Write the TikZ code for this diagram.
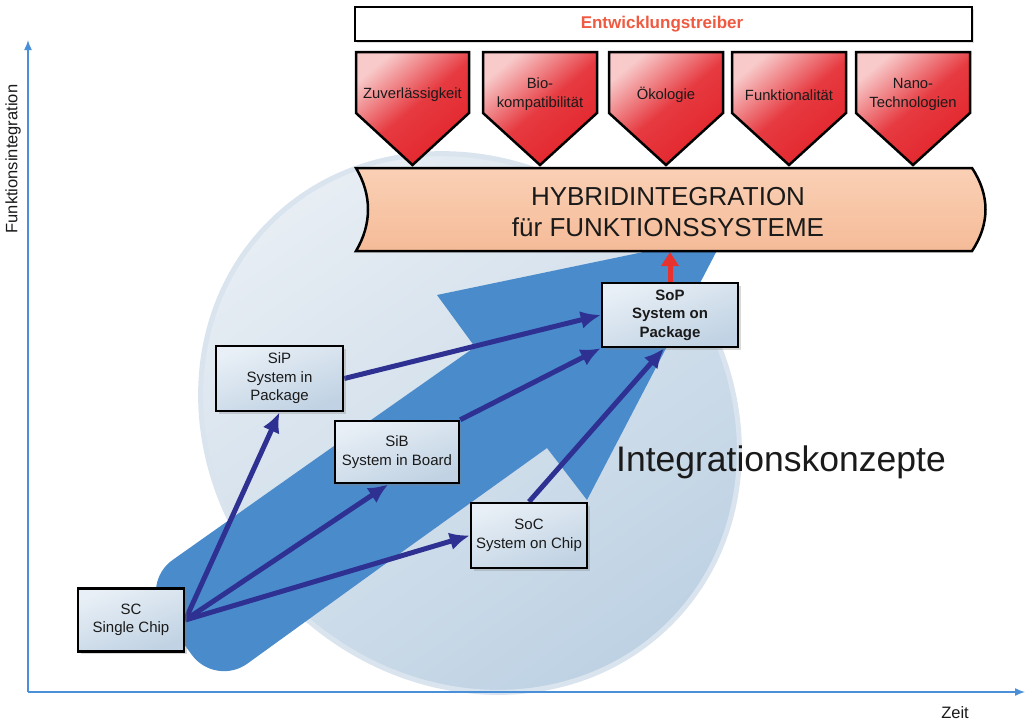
\documentclass[tikz,border=0pt]{standalone}
\usepackage{fontspec}
\setmainfont{Liberation Sans}
\usetikzlibrary{arrows.meta,shadows,calc}
\definecolor{axisblue}{HTML}{4A90D9}
\definecolor{bigblue}{HTML}{4A8BCB}
\definecolor{ellA}{HTML}{E8EEF4}
\definecolor{ellB}{HTML}{BDD1E3}
\definecolor{ellrim}{HTML}{D9E4EE}
\definecolor{darkarrow}{HTML}{2E3192}
\definecolor{boxtop}{HTML}{E8EFF6}
\definecolor{boxbot}{HTML}{C0D2E3}
\definecolor{bandtop}{HTML}{FAD0B5}
\definecolor{bandbot}{HTML}{F5BB98}
\definecolor{redA}{HTML}{F8CACA}
\definecolor{redB}{HTML}{E3242B}
\definecolor{treiber}{HTML}{EF5A40}
\definecolor{redarrow}{HTML}{E8322E}
\definecolor{txt}{HTML}{1A1A1A}
\pgfdeclarelayer{bg}
\pgfdeclarelayer{mid}
\pgfsetlayers{bg,mid,main}
\begin{document}
\begin{tikzpicture}[x=1pt,y=-1pt,
  concept/.style={draw=black, line width=2.5pt, top color=boxtop, bottom color=boxbot, shading angle=20,
    align=center, text=txt, font=\fontsize{15}{18.5}\selectfont, inner sep=0pt,
    drop shadow={shadow xshift=2.5pt,shadow yshift=-2.5pt,opacity=0.3}},
  conn/.style={draw=darkarrow, line width=5pt, -{Latex[length=20pt,width=18pt]}},
  driver/.style={draw=black, line width=2.5pt, top color=redA, bottom color=redB, middle color=redB!90!white,
    shading angle=40, line join=miter},
  drivertext/.style={align=center, font=\fontsize{14.8}{19}\selectfont, text=txt},
  axis/.style={draw=axisblue, line width=1.5pt, -{Latex[length=10pt,width=8pt]}},
]
\useasboundingbox (0,0) rectangle (1029,724);
\begin{pgfonlayer}{bg}
\fill[white] (0,0) rectangle (1029,724);
% background ellipse
\path[rotate around={-45:(470,423)}, draw=ellrim, line width=5pt, top color=ellA, bottom color=ellB, shading angle=35]
  (470,423) ellipse [x radius=283, y radius=255];
% big blue arrow
\fill[bigblue] (381,567) [rounded corners=40pt] -- (215,687) -- (140,583) -- (307,465)
  [sharp corners] -- (475,347) -- (437,295) -- (725,235) -- (587,500) -- (547,448) -- cycle;
\end{pgfonlayer}

% axes
\coordinate (O) at (28,692);
\coordinate (ytop) at (28,40);
\coordinate (xend) at (1025,692);
\draw[axis] (O) -- (ytop);
\draw[axis] (O) -- (xend);
\node[rotate=90, font=\fontsize{16.5}{16.5}\selectfont, text=txt] (ylabel) at (13,159) {Funktionsintegration};
\node[font=\fontsize{16.5}{16.5}\selectfont, text=txt] (xlabel) at (955,713) {Zeit};

% band
\draw[line width=2.5pt, top color=bandtop, bottom color=bandbot]
  (356,168) -- (972,168) .. controls (990,195) and (990,224) .. (972,251)
  -- (356,251) .. controls (372,224) and (372,195) .. (356,168) -- cycle;
\node[align=center, font=\fontsize{26}{31}\selectfont, text=txt] (band) at (668,212) {HYBRIDINTEGRATION\\für FUNKTIONSSYSTEME};
\coordinate (bandbot) at (670,252);

% header
\node[draw=black, line width=2.5pt, fill=white, minimum width=617, minimum height=34, inner sep=0pt,
  drop shadow={shadow xshift=2pt,shadow yshift=-2pt,opacity=0.25}] (head) at (663.5,24) {};
\node[font=\bfseries\fontsize{17}{17}\selectfont, text=treiber] (treib) at (662,24) {Entwicklungstreiber};

% drivers
\draw[driver] (356,52) -- (469,52) -- (469,113) -- (412.5,165) -- (356,113) -- cycle;
\node[drivertext] (d1) at (412.5,95) {Zuverlässigkeit};
\draw[driver] (483,52) -- (597,52) -- (597,113) -- (540,165) -- (483,113) -- cycle;
\node[drivertext] (d2) at (540,94) {Bio-\\kompatibilität};
\draw[driver] (609,52) -- (723,52) -- (723,113) -- (666,165) -- (609,113) -- cycle;
\node[drivertext] (d3) at (666,95) {Ökologie};
\draw[driver] (732,52) -- (846,52) -- (846,113) -- (789,165) -- (732,113) -- cycle;
\node[drivertext] (d4) at (789,95) {Funktionalität};
\draw[driver] (856,52) -- (970,52) -- (970,113) -- (913,165) -- (856,113) -- cycle;
\node[drivertext] (d5) at (913,94) {Nano-\\Technologien};

% concept boxes
\node[concept, minimum width=106, minimum height=63] (SC) at (131,620) {SC\\Single Chip};
\node[concept, minimum width=127, minimum height=65] (SiP) at (279.5,378.5) {SiP\\System in\\Package};
\node[concept, minimum width=124, minimum height=62] (SiB) at (397,452) {SiB\\System in Board};
\node[concept, minimum width=116, minimum height=65] (SoC) at (529,535.5) {SoC\\System on Chip};
\node[concept, minimum width=136, minimum height=64, font=\bfseries\fontsize{15}{18.5}\selectfont] (SoP) at (670,315) {SoP\\System on\\Package};

% connectors
\begin{pgfonlayer}{mid}
\draw[conn] (SC.east) -- (SiP.south);
\draw[conn] (SC.east) -- (SiB.-105);
\draw[conn] (SC.east) -- (SoC.west);
\draw[conn] (SiP.east) -- (SoP.west);
\draw[conn] (SiB.north east) -- (SoP.south west);
\draw[conn] (SoC.north) -- (SoP.-100);
\draw[draw=redarrow, line width=5pt, -{Triangle[length=14pt,width=17pt]}] (SoP.north) -- (bandbot);
\end{pgfonlayer}

\node[font=\fontsize{35.5}{35.5}\selectfont, text=txt] (ik) at (781,462) {Integrationskonzepte};
\end{tikzpicture}
\end{document}
